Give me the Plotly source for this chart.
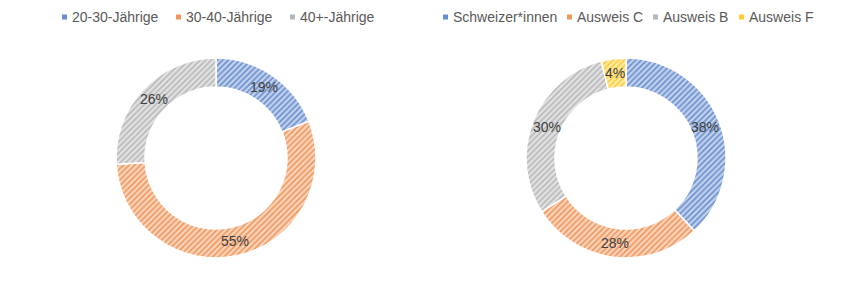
import math
import plotly.graph_objects as go

age_labels = ["20-30-Jährige", "30-40-Jährige", "40+-Jährige"]
age_values = [19, 55, 26]
age_colors = ["#4472C4", "#ED7D31", "#A5A5A5"]

status_labels = ["Schweizer*innen", "Ausweis C", "Ausweis B", "Ausweis F"]
status_values = [38, 28, 30, 4]
status_colors = ["#4472C4", "#ED7D31", "#A5A5A5", "#FFC000"]

W, H = 841, 287
FONT = "Liberation Sans, Arial, sans-serif"
TEXT_COLOR = "#404040"
LEGEND_COLOR = "#595959"

# layout constants (pixels)
CY, R_OUT, HOLE = 158, 100, 0.71
CENTERS_X = [216, 626]
LEGEND_Y = 17
LEGEND_TEXT_X = [[72, 186, 300], [453, 577, 663, 749]]


def tint(hex_color, f):
    h = hex_color.lstrip("#")
    r, g, b = (int(h[i:i + 2], 16) for i in (0, 2, 4))
    r, g, b = (round(c + (255 - c) * f) for c in (r, g, b))
    return f"#{r:02x}{g:02x}{b:02x}"


def pie(labels, values, colors, cx):
    n = len(labels)
    return go.Pie(
        labels=labels, values=values, sort=False, direction="clockwise", rotation=0,
        hole=HOLE,
        domain=dict(x=[(cx - R_OUT) / W, (cx + R_OUT) / W],
                    y=[(H - CY - R_OUT) / H, (H - CY + R_OUT) / H]),
        marker=dict(colors=colors, line=dict(color="white", width=1.5),
                    pattern=dict(shape=["/"] * n, fillmode="overlay",
                                 bgcolor=[tint(c, 0.68) for c in colors],
                                 fgcolor=colors, fgopacity=0.7,
                                 size=4, solidity=0.42)),
        textinfo="none", hoverinfo="label+percent", showlegend=False,
    )


fig = go.Figure()
annotations, shapes = [], []
for cx, labels, values, colors, ltx in [
    (CENTERS_X[0], age_labels, age_values, age_colors, LEGEND_TEXT_X[0]),
    (CENTERS_X[1], status_labels, status_values, status_colors, LEGEND_TEXT_X[1]),
]:
    fig.add_trace(pie(labels, values, colors, cx))
    total = sum(values)
    r_mid = R_OUT * (1 + HOLE) / 2
    cum = 0
    for v in values:
        ang = 2 * math.pi * (cum + v / 2) / total
        cum += v
        px = cx + r_mid * math.sin(ang)
        py = CY - r_mid * math.cos(ang)
        annotations.append(dict(
            x=px / W, y=1 - py / H, xref="paper", yref="paper", showarrow=False,
            text=f"{round(100 * v / total)}%", xanchor="center", yanchor="middle",
            font=dict(family=FONT, size=14, color=TEXT_COLOR)))
    for lab, col, tx in zip(labels, colors, ltx):
        annotations.append(dict(
            x=tx / W, y=1 - LEGEND_Y / H, xref="paper", yref="paper", showarrow=False,
            text=lab, xanchor="left", yanchor="middle", xshift=-2,
            font=dict(family=FONT, size=14, color=LEGEND_COLOR)))
        shapes.append(dict(
            type="rect", xref="paper", yref="paper",
            x0=(tx - 10) / W, x1=(tx - 5) / W,
            y0=1 - (LEGEND_Y + 2.5) / H, y1=1 - (LEGEND_Y - 2.5) / H,
            fillcolor=tint(col, 0.2), line=dict(width=0)))

fig.update_layout(
    width=W, height=H, margin=dict(l=0, r=0, t=0, b=0, autoexpand=False),
    paper_bgcolor="white", plot_bgcolor="white",
    showlegend=False, annotations=annotations, shapes=shapes,
)

fig.write_html("out.html")
